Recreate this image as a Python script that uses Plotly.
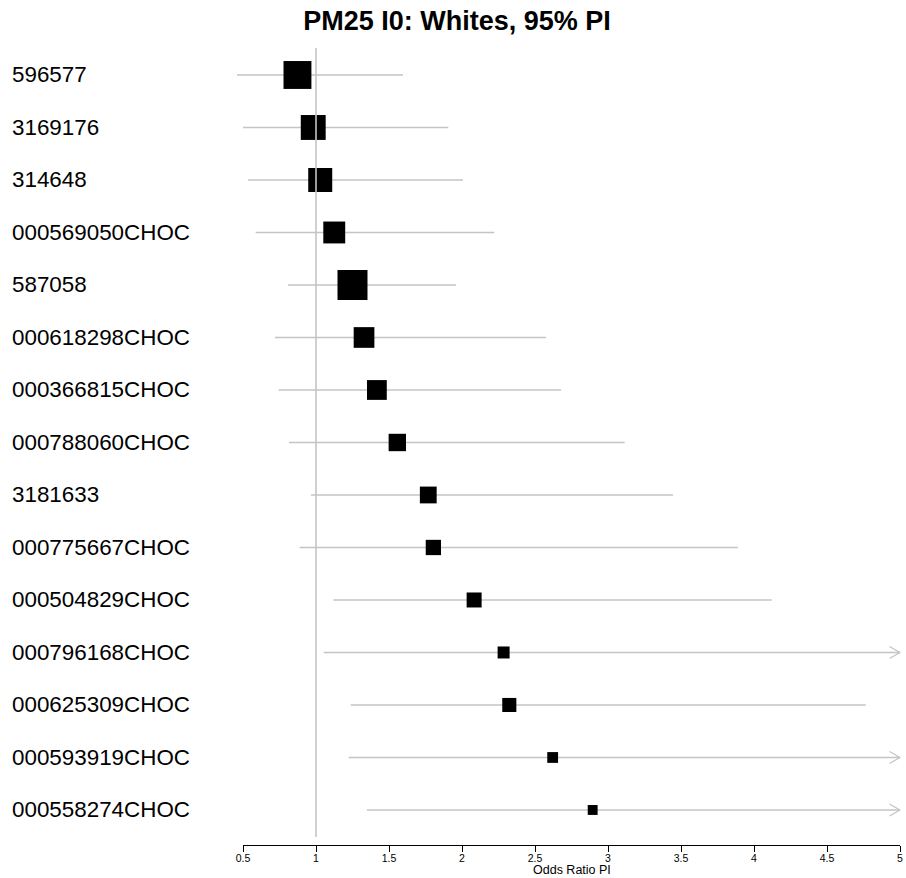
import plotly.graph_objects as go

# Forest plot of odds ratios with 95% prediction intervals
labels = [
    "596577", "3169176", "314648", "000569050CHOC", "587058",
    "000618298CHOC", "000366815CHOC", "000788060CHOC", "3181633",
    "000775667CHOC", "000504829CHOC", "000796168CHOC", "000625309CHOC",
    "000593919CHOC", "000558274CHOC",
]
odds_ratio = [0.873, 0.981, 1.029, 1.125, 1.250, 1.329, 1.417, 1.557, 1.769,
              1.804, 2.083, 2.285, 2.324, 2.621, 2.895]
pi_lower = [0.459, 0.500, 0.534, 0.587, 0.808, 0.719, 0.745, 0.815, 0.966,
            0.888, 1.119, 1.053, 1.238, 1.224, 1.349]
# None: the upper limit lies beyond the right end of the axis
pi_upper = [1.596, 1.906, 2.007, 2.221, 1.959, 2.575, 2.678, 3.114, 3.445,
            3.890, 4.121, None, 4.765, None, None]
# relative box size (study weight)
box_weight = [0.93, 0.83, 0.80, 0.73, 1.00, 0.69, 0.66, 0.58, 0.56,
              0.51, 0.50, 0.40, 0.47, 0.36, 0.33]
tick_values = [0.5, 1, 1.5, 2, 2.5, 3, 3.5, 4, 4.5, 5]
tick_text = ["0.5", "1", "1.5", "2", "2.5", "3", "3.5", "4", "4.5", "5"]

W, H = 906, 878
ML, MR, MT, MB = 236, 2, 48, 33
AX_MIN, AX_MAX = tick_values[0], tick_values[-1]
plot_w = W - ML - MR
plot_h = H - MT - MB
px_per_unit = 146.0                       # horizontal scale of the odds-ratio axis
x_lo = AX_MIN - 7 / px_per_unit           # small gutter left of 0.5
x_hi = x_lo + plot_w / px_per_unit
n = len(labels)
y_top, y_bot = -0.514, n - 1 + 0.667
row_px = plot_h / (y_bot - y_top)

FONT = "Liberation Sans, Arial, Helvetica, sans-serif"
LINE_GREY = "rgb(196,196,196)"
MAX_BOX = 30

fig = go.Figure()

# reference line at OR = 1 (drawn on the display axis)
fig.add_trace(go.Scatter(
    x=[1, 1], y=[y_top, n - 1 + 0.514], xaxis="x2", yaxis="y",
    mode="lines", line=dict(color=LINE_GREY, width=1.6),
    hoverinfo="skip", showlegend=False))

# interval lines, with open arrowheads where the interval runs off the axis
for i in range(n):
    hi = pi_upper[i]
    if hi is not None:
        xs, ys = [pi_lower[i], hi], [i, i]
    else:
        dx = 10.5 / px_per_unit
        dy = 6.0 / row_px
        xs = [pi_lower[i], AX_MAX, None, AX_MAX - dx, AX_MAX, AX_MAX - dx]
        ys = [i, i, None, i - dy, i, i + dy]
    fig.add_trace(go.Scatter(
        x=xs, y=ys, mode="lines", line=dict(color=LINE_GREY, width=1.3),
        hoverinfo="skip", showlegend=False))

# point estimates as squares sized by weight
fig.add_trace(go.Scatter(
    x=odds_ratio, y=list(range(n)), mode="markers", opacity=1,
    marker=dict(symbol="square", color="black", opacity=1,
                size=[MAX_BOX * w for w in box_weight],
                line=dict(width=0)),
    text=labels, hovertemplate="%{text}: %{x:.2f}<extra></extra>",
    showlegend=False))

# study labels, left aligned
for i, lab in enumerate(labels):
    fig.add_annotation(
        text=lab, xref="paper", x=(10 - ML) / plot_w, xanchor="left",
        yref="y", y=i, yanchor="middle", showarrow=False,
        font=dict(family=FONT, size=22.4, color="black"))

# axis title
fig.add_annotation(
    text="Odds Ratio PI", xref="x2", x=(AX_MIN + AX_MAX) / 2,
    yref="paper", y=-(870 - (H - MB)) / plot_h, yanchor="middle",
    showarrow=False, font=dict(family=FONT, size=12.5, color="black"))

fig.update_layout(
    width=W, height=H,
    margin=dict(l=ML, r=MR, t=MT, b=MB, pad=0, autoexpand=False),
    paper_bgcolor="white", plot_bgcolor="rgba(0,0,0,0)",
    title=dict(text="<b>PM25 I0: Whites, 95% PI</b>",
               x=457 / W, xanchor="center", xref="container",
               y=1 - 21 / H, yanchor="middle", yref="container",
               font=dict(family=FONT, size=27, color="black")),
    xaxis=dict(range=[x_lo, x_hi], visible=False, fixedrange=True,
               automargin=False),
    xaxis2=dict(
        range=[AX_MIN, AX_MAX], anchor="y", automargin=False,
        domain=[(AX_MIN - x_lo) * px_per_unit / plot_w,
                (AX_MAX - x_lo) * px_per_unit / plot_w],
        tickmode="array", tickvals=tick_values, ticktext=tick_text,
        ticks="outside", ticklen=6, tickwidth=1, tickcolor="black",
        showline=True, linecolor="black", linewidth=1,
        showgrid=False, zeroline=False, ticklabelstandoff=-3,
        tickfont=dict(family=FONT, size=10.5, color="black")),
    yaxis=dict(range=[y_bot, y_top], visible=False, showgrid=False,
               zeroline=False, fixedrange=True, automargin=False),
)

fig.write_html("out.html")
